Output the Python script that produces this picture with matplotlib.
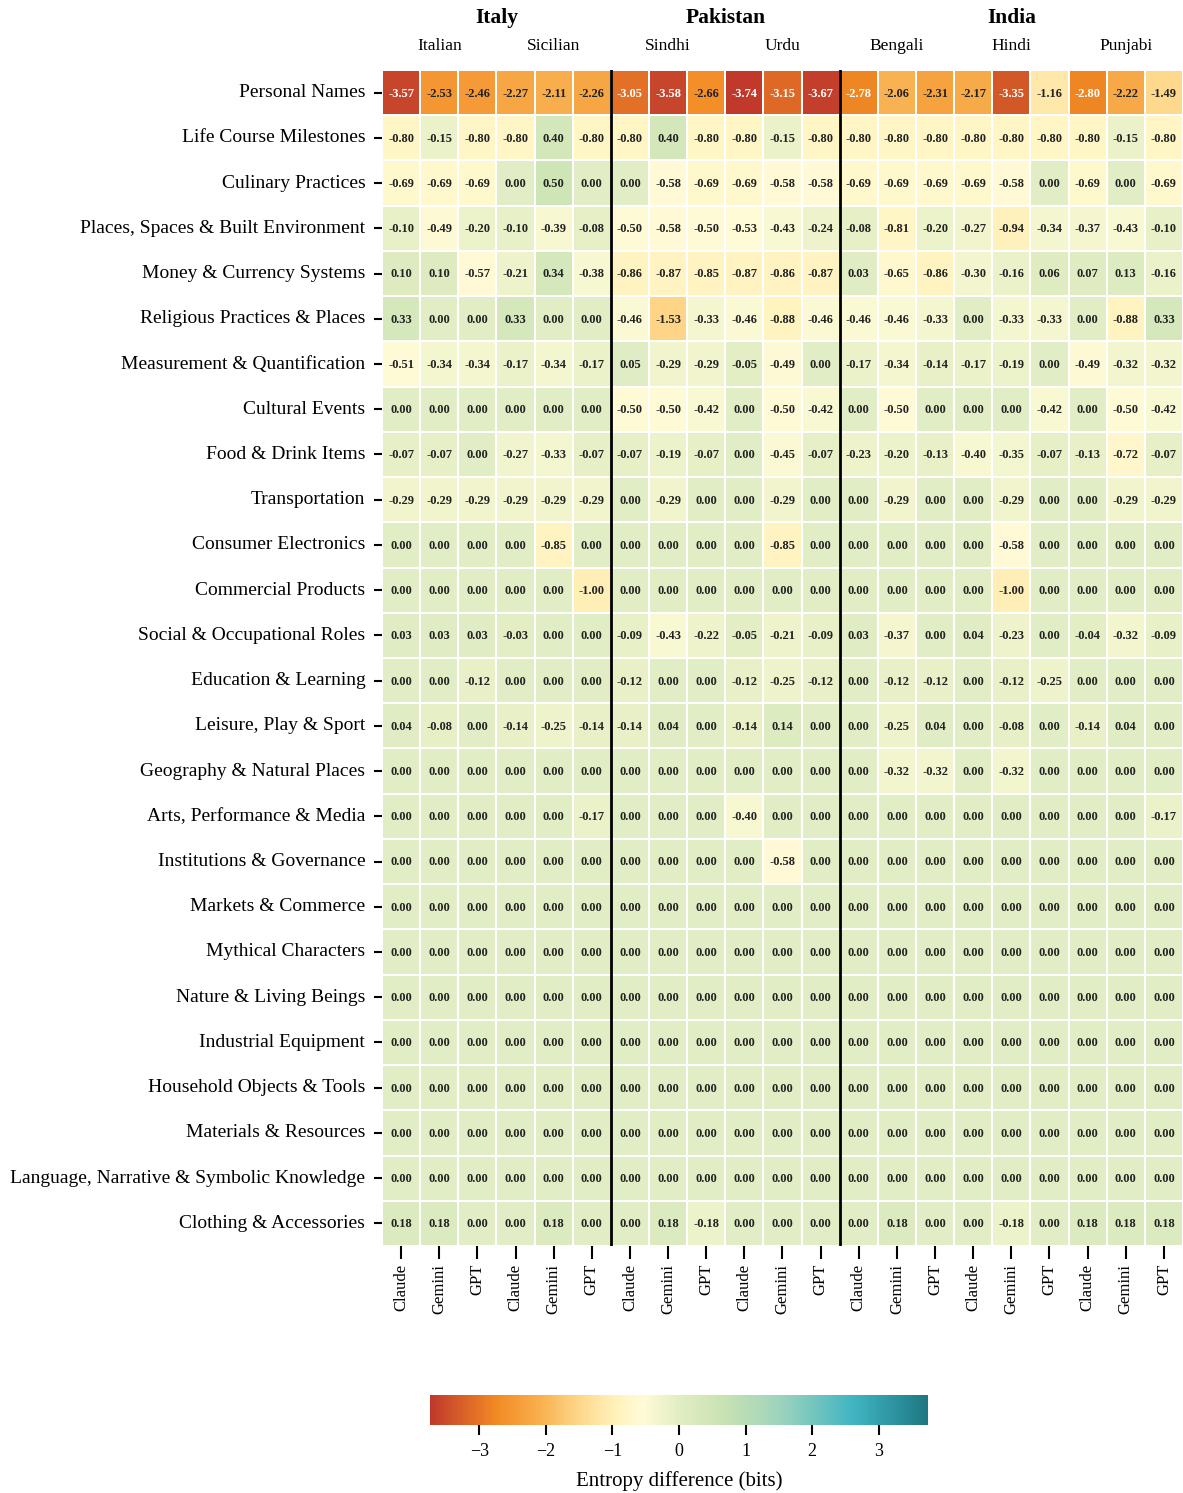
import numpy as np
import matplotlib
matplotlib.use("Agg")
import matplotlib.pyplot as plt
import seaborn as sns
from matplotlib.colors import LinearSegmentedColormap
import matplotlib.transforms as mtransforms

plt.rcParams['font.family'] = ['Liberation Serif', 'DejaVu Serif']

countries = ["Italy", "Pakistan", "India"]
languages = ["Italian", "Sicilian", "Sindhi", "Urdu", "Bengali", "Hindi", "Punjabi"]
lang_country = ["Italy", "Italy", "Pakistan", "Pakistan", "India", "India", "India"]
models = ["Claude", "Gemini", "GPT"]

categories = [
    "Personal Names", "Life Course Milestones", "Culinary Practices",
    "Places, Spaces & Built Environment", "Money & Currency Systems",
    "Religious Practices & Places", "Measurement & Quantification",
    "Cultural Events", "Food & Drink Items", "Transportation",
    "Consumer Electronics", "Commercial Products", "Social & Occupational Roles",
    "Education & Learning", "Leisure, Play & Sport", "Geography & Natural Places",
    "Arts, Performance & Media", "Institutions & Governance", "Markets & Commerce",
    "Mythical Characters", "Nature & Living Beings", "Industrial Equipment",
    "Household Objects & Tools", "Materials & Resources",
    "Language, Narrative & Symbolic Knowledge", "Clothing & Accessories",
]

personal_names = [-3.57, -2.53, -2.46, -2.27, -2.11, -2.26, -3.05, -3.58, -2.66, -3.74, -3.15, -3.67,
                  -2.78, -2.06, -2.31, -2.17, -3.35, -1.16, -2.80, -2.22, -1.49]
life_course = [-0.80, -0.15, -0.80, -0.80, 0.40, -0.80, -0.80, 0.40, -0.80, -0.80, -0.15, -0.80,
               -0.80, -0.80, -0.80, -0.80, -0.80, -0.80, -0.80, -0.15, -0.80]
culinary = [-0.69, -0.69, -0.69, 0.00, 0.50, 0.00, 0.00, -0.58, -0.69, -0.69, -0.58, -0.58,
            -0.69, -0.69, -0.69, -0.69, -0.58, 0.00, -0.69, 0.00, -0.69]
places = [-0.10, -0.49, -0.20, -0.10, -0.39, -0.08, -0.50, -0.58, -0.50, -0.53, -0.43, -0.24,
          -0.08, -0.81, -0.20, -0.27, -0.94, -0.34, -0.37, -0.43, -0.10]
money = [0.10, 0.10, -0.57, -0.21, 0.34, -0.38, -0.86, -0.87, -0.85, -0.87, -0.86, -0.87,
         0.03, -0.65, -0.86, -0.30, -0.16, 0.06, 0.07, 0.13, -0.16]
religious = [0.33, 0.00, 0.00, 0.33, 0.00, 0.00, -0.46, -1.53, -0.33, -0.46, -0.88, -0.46,
             -0.46, -0.46, -0.33, 0.00, -0.33, -0.33, 0.00, -0.88, 0.33]
measurement = [-0.51, -0.34, -0.34, -0.17, -0.34, -0.17, 0.05, -0.29, -0.29, -0.05, -0.49, 0.00,
               -0.17, -0.34, -0.14, -0.17, -0.19, 0.00, -0.49, -0.32, -0.32]
cultural_events = [0.00, 0.00, 0.00, 0.00, 0.00, 0.00, -0.50, -0.50, -0.42, 0.00, -0.50, -0.42,
                   0.00, -0.50, 0.00, 0.00, 0.00, -0.42, 0.00, -0.50, -0.42]
food_drink = [-0.07, -0.07, 0.00, -0.27, -0.33, -0.07, -0.07, -0.19, -0.07, 0.00, -0.45, -0.07,
              -0.23, -0.20, -0.13, -0.40, -0.35, -0.07, -0.13, -0.72, -0.07]
transportation = [-0.29, -0.29, -0.29, -0.29, -0.29, -0.29, 0.00, -0.29, 0.00, 0.00, -0.29, 0.00,
                  0.00, -0.29, 0.00, 0.00, -0.29, 0.00, 0.00, -0.29, -0.29]
electronics = [0.00, 0.00, 0.00, 0.00, -0.85, 0.00, 0.00, 0.00, 0.00, 0.00, -0.85, 0.00,
               0.00, 0.00, 0.00, 0.00, -0.58, 0.00, 0.00, 0.00, 0.00]
commercial = [0.00, 0.00, 0.00, 0.00, 0.00, -1.00, 0.00, 0.00, 0.00, 0.00, 0.00, 0.00,
              0.00, 0.00, 0.00, 0.00, -1.00, 0.00, 0.00, 0.00, 0.00]
social_roles = [0.03, 0.03, 0.03, -0.03, 0.00, 0.00, -0.09, -0.43, -0.22, -0.05, -0.21, -0.09,
                0.03, -0.37, 0.00, 0.04, -0.23, 0.00, -0.04, -0.32, -0.09]
education = [0.00, 0.00, -0.12, 0.00, 0.00, 0.00, -0.12, 0.00, 0.00, -0.12, -0.25, -0.12,
             0.00, -0.12, -0.12, 0.00, -0.12, -0.25, 0.00, 0.00, 0.00]
leisure = [0.04, -0.08, 0.00, -0.14, -0.25, -0.14, -0.14, 0.04, 0.00, -0.14, 0.14, 0.00,
           0.00, -0.25, 0.04, 0.00, -0.08, 0.00, -0.14, 0.04, 0.00]
geography = [0.00, 0.00, 0.00, 0.00, 0.00, 0.00, 0.00, 0.00, 0.00, 0.00, 0.00, 0.00,
             0.00, -0.32, -0.32, 0.00, -0.32, 0.00, 0.00, 0.00, 0.00]
arts = [0.00, 0.00, 0.00, 0.00, 0.00, -0.17, 0.00, 0.00, 0.00, -0.40, 0.00, 0.00,
        0.00, 0.00, 0.00, 0.00, 0.00, 0.00, 0.00, 0.00, -0.17]
institutions = [0.00, 0.00, 0.00, 0.00, 0.00, 0.00, 0.00, 0.00, 0.00, 0.00, -0.58, 0.00,
                0.00, 0.00, 0.00, 0.00, 0.00, 0.00, 0.00, 0.00, 0.00]
markets = [0.00] * 21
mythical = [0.00] * 21
nature = [0.00] * 21
industrial = [0.00] * 21
household = [0.00] * 21
materials = [0.00] * 21
language_narr = [0.00] * 21
clothing = [0.18, 0.18, 0.00, 0.00, 0.18, 0.00, 0.00, 0.18, -0.18, 0.00, 0.00, 0.00,
            0.00, 0.18, 0.00, 0.00, -0.18, 0.00, 0.18, 0.18, 0.18]

rows = [personal_names, life_course, culinary, places, money, religious, measurement,
        cultural_events, food_drink, transportation, electronics, commercial, social_roles,
        education, leisure, geography, arts, institutions, markets, mythical, nature,
        industrial, household, materials, language_narr, clothing]
data = np.array(rows)

cbar_ticks = [-3, -2, -1, 0, 1, 2, 3]

vmax = np.abs(data).max()
vmin = -vmax

def pos(v):
    return (v - vmin) / (vmax - vmin)

cmap = LinearSegmentedColormap.from_list("entropy", [
    (0.0, "#c0392b"),
    (pos(-2.75), "#f28a24"),
    (pos(-2.1), "#f8b04e"),
    (pos(-1.5), "#fed78a"),
    (pos(-1.0), "#fff0b8"),
    (pos(-0.55), "#fffbd6"),
    (pos(0.0), "#e2edc4"),
    (pos(0.68), "#c8e2b2"),
    (pos(1.5), "#9fd4bc"),
    (pos(2.63), "#40b5c2"),
    (1.0, "#1e7884"),
])

fig = plt.figure(figsize=(11.83, 14.93), dpi=100)
ax = fig.add_axes([382 / 1183, 1 - 1246 / 1493, 801 / 1183, 1176 / 1493])
cax = fig.add_axes([430 / 1183, 1 - 1425 / 1493, 498 / 1183, 30 / 1493])

xlabels = [m for _ in languages for m in models]
sns.heatmap(data, ax=ax, cmap=cmap, vmin=vmin, vmax=vmax, linewidths=1.1, linecolor="white",
            cbar_ax=cax, cbar_kws={"orientation": "horizontal", "ticks": cbar_ticks},
            xticklabels=xlabels, yticklabels=categories, annot=False)

nr, nc = data.shape
for i in range(nr):
    for j in range(nc):
        v = data[i, j]
        col = "white" if v < -2.7 else "#222222"
        ax.text(j + 0.5, i + 0.52, f"{v:.2f}", ha="center", va="center",
                fontsize=9, fontweight="bold", color=col)

ax.axvline(6, color="black", lw=2)
ax.axvline(12, color="black", lw=2)

ax.tick_params(axis="y", which="major", length=6, width=1.5, labelsize=14, pad=6, left=True)
ax.tick_params(axis="x", which="major", length=9, width=1.5, labelsize=12, pad=4, bottom=True)
plt.setp(ax.get_xticklabels(), rotation=90)
plt.setp(ax.get_yticklabels(), rotation=0)

trans = mtransforms.blended_transform_factory(ax.transData, fig.transFigure)
for k, lang in enumerate(languages):
    ax.text(3 * k + 1.5, 1 - 46 / 1493, lang, transform=trans, ha="center", va="center", fontsize=12.5)
for c in countries:
    idx = [k for k, lc in enumerate(lang_country) if lc == c]
    center = (3 * idx[0] + 3 * (idx[-1] + 1)) / 2
    ax.text(center, 1 - 18 / 1493, c, transform=trans, ha="center", va="center",
            fontsize=15.5, fontweight="bold")

cbar = ax.collections[0].colorbar
cbar.outline.set_visible(False)
cax.tick_params(length=7, width=1.5, labelsize=13, pad=6)
cax.set_xlabel("Entropy difference (bits)", fontsize=15, labelpad=8)

fig.savefig("out.png", dpi=100)
